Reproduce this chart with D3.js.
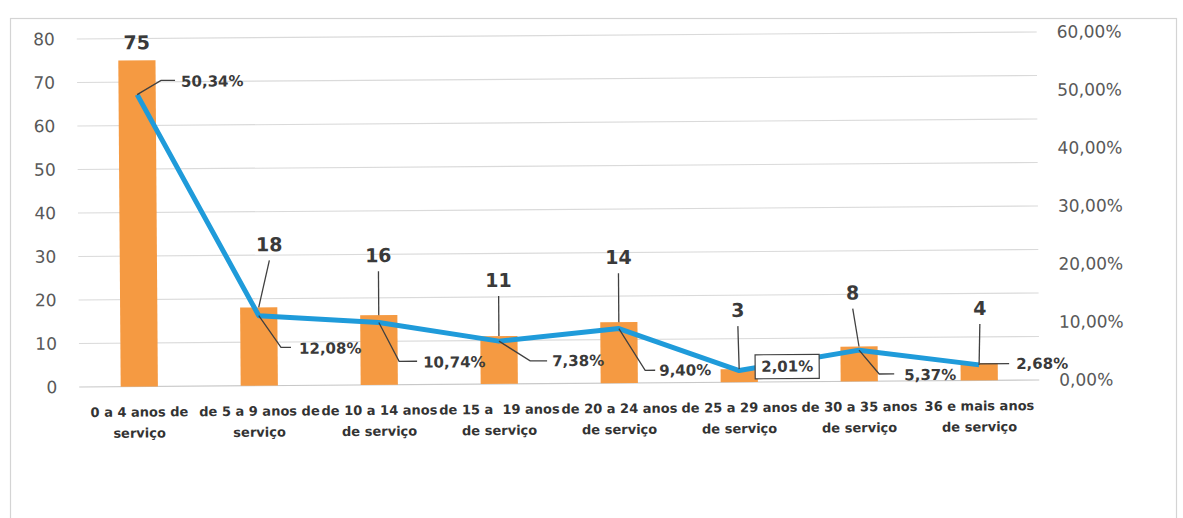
<!DOCTYPE html>
<html>
<head>
<meta charset="utf-8">
<script src="https://cdn.jsdelivr.net/npm/d3@7"></script>
<style>
  html, body { margin: 0; padding: 0; background: #fff; }
  svg { display: block; font-family: "DejaVu Sans", sans-serif; }
</style>
</head>
<body>
<svg id="chart"></svg>
<script>
//-------------------
// DATA
//-------------------
var categories = ["0-4", "5-9", "10-14", "15-19", "20-24", "25-29", "30-35", "36+"];
var catLine1 = ["0 a 4 anos de", "de 5 a 9 anos de", "de 10 a 14 anos", "de 15 a\u00a0 19 anos",
                "de 20 a 24 anos", "de 25 a 29 anos", "de 30 a 35 anos", "36 e mais anos"];
var catLine2 = ["serviço", "serviço", "de serviço", "de serviço",
                "de serviço", "de serviço", "de serviço", "de serviço"];
var counts = [75, 18, 16, 11, 14, 3, 8, 4];
var percents = [50.34, 12.08, 10.74, 7.38, 9.40, 2.01, 5.37, 2.68];
var leftTicks = [0, 10, 20, 30, 40, 50, 60, 70, 80];
var rightTicks = [0, 10, 20, 30, 40, 50, 60];

//-------------------
// LAYOUT (label offsets, not data)
//-------------------
// bar value labels: offset of text centre from bar top, leader on/off
var barLabelPos = [[0, -18, 0], [11, -63, 1], [0, -60, 1], [0, -56, 1],
                   [0, -65, 1], [-1, -59, 1], [-6, -54, 1], [1, -55, 1]];
// percent labels: elbow dx, elbow dy, leader end dx, text dx, text dy
var pctLabelPos = [[24, -14, 38, 44, -13], [22, 32, 32, 40, 33], [20, 39, 38, 44, 40],
                   [31, 20, 48, 53, 20], [26, 42, 36, 40, 42], [0, 0, 0, 22, -4],
                   [20, 24, 35, 45, 25], [0, -1, 30, 37, -1]];

var width = 1183, height = 518;
var svg = d3.select("#chart").attr("width", width).attr("height", height);

var x0 = 78, x1 = 1038, yTop = 35.5, yBot = 383.5;

var x = d3.scaleBand().domain(categories).range([x0, x1])
    .paddingInner(0.69).paddingOuter(0.345);
var yL = d3.scaleLinear().domain([0, 80]).range([yBot, yTop]);
var yR = d3.scaleLinear().domain([0, 60]).range([yBot, yTop]);

var loc = d3.formatLocale({ decimal: ",", thousands: ".", grouping: [3], currency: ["", ""] });
var fmtPct = function (v) { return loc.format(".2f")(v) + "%"; };

// chart area border
svg.append("rect")
    .attr("x", 10.5).attr("y", 18.5)
    .attr("width", 1166).attr("height", 540)
    .attr("fill", "none").attr("stroke", "#d4d4d4").attr("stroke-width", 1.2);

// the scan is a little tilted
var g = svg.append("g").attr("transform", "rotate(-0.42, 558, 210)");

//------------
// GRIDLINES
//------------
g.selectAll("line.grid").data(leftTicks).enter()
    .append("line")
    .attr("class", "grid")
    .attr("x1", x0).attr("x2", x1)
    .attr("y1", d => yL(d)).attr("y2", d => yL(d))
    .attr("stroke", d => d === 0 ? "#c8c8c8" : "#dadada")
    .attr("stroke-width", 1.2);

//------------
// AXES
//------------
var axL = g.append("g").attr("transform", "translate(" + (x0 - 20) + ",0)")
    .call(d3.axisLeft(yL).tickValues(leftTicks).tickSize(0).tickPadding(2));
var axR = g.append("g").attr("transform", "translate(" + (x1 + 18) + ",0)")
    .call(d3.axisRight(yR).tickValues(rightTicks).tickSize(0).tickPadding(2)
        .tickFormat(fmtPct));
[axL, axR].forEach(a => {
    a.select(".domain").remove();
    a.selectAll("text")
        .attr("font-family", "DejaVu Sans, sans-serif")
        .attr("font-size", 17)
        .attr("fill", "#595959");
});

//------------
// BARS
//------------
g.selectAll("rect.bar").data(counts).enter()
    .append("rect")
    .attr("class", "bar")
    .attr("x", (d, i) => x(categories[i]))
    .attr("y", d => yL(d))
    .attr("width", x.bandwidth())
    .attr("height", d => yBot - yL(d))
    .attr("fill", "#F59A42");

//------------
// LINE
//------------
var cx = i => x(categories[i]) + x.bandwidth() / 2;
var line = d3.line().x((d, i) => cx(i)).y(d => yR(d));
g.append("path").datum(percents)
    .attr("d", line)
    .attr("fill", "none")
    .attr("stroke", "#1F9BDA")
    .attr("stroke-width", 5)
    .attr("stroke-linejoin", "round");

//-------------------
// BAR VALUE LABELS
//-------------------
counts.forEach((v, i) => {
    var px = cx(i), py = yL(v);
    var p = barLabelPos[i];
    if (p[2]) {
        g.append("line")
            .attr("x1", px + p[0]).attr("y1", py + p[1] + 16)
            .attr("x2", px).attr("y2", py)
            .attr("stroke", "#404040").attr("stroke-width", 1.3);
    }
    g.append("text")
        .attr("x", px + p[0]).attr("y", py + p[1])
        .attr("text-anchor", "middle").attr("dy", "0.36em")
        .attr("font-size", 19).attr("font-weight", "bold")
        .attr("fill", "#3a3a3a")
        .text(v);
});

//-------------------
// PERCENT LABELS
//-------------------
percents.forEach((v, i) => {
    var px = cx(i), py = yR(v);
    var p = pctLabelPos[i];
    if (p[2] > 0) {
        g.append("polyline")
            .attr("points", [[px, py], [px + p[0], py + p[1]], [px + p[2], py + p[1]]].join(" "))
            .attr("fill", "none")
            .attr("stroke", "#404040").attr("stroke-width", 1.3);
    }
    var box = p[2] === 0 ? g.append("rect") : null;
    var t = g.append("text")
        .attr("x", px + p[3]).attr("y", py + p[4])
        .attr("dy", "0.36em")
        .attr("font-size", 15).attr("font-weight", "bold")
        .attr("fill", "#3a3a3a")
        .text(fmtPct(v));
    if (box) {
        // boxed label
        var bb = t.node().getBBox();
        box.attr("x", bb.x - 6).attr("y", bb.y - 3)
            .attr("width", bb.width + 12).attr("height", bb.height + 6)
            .attr("fill", "#fff").attr("stroke", "#404040").attr("stroke-width", 1.2);
    }
});

//-------------------
// CATEGORY LABELS
//-------------------
categories.forEach((c, i) => {
    var t = g.append("text")
        .attr("x", cx(i)).attr("y", yBot + 30)
        .attr("text-anchor", "middle")
        .attr("font-size", 13).attr("font-weight", "bold")
        .attr("fill", "#333");
    t.append("tspan").attr("x", cx(i)).text(catLine1[i]);
    t.append("tspan").attr("x", cx(i)).attr("dy", 21).text(catLine2[i]);
});
</script>
</body>
</html>
